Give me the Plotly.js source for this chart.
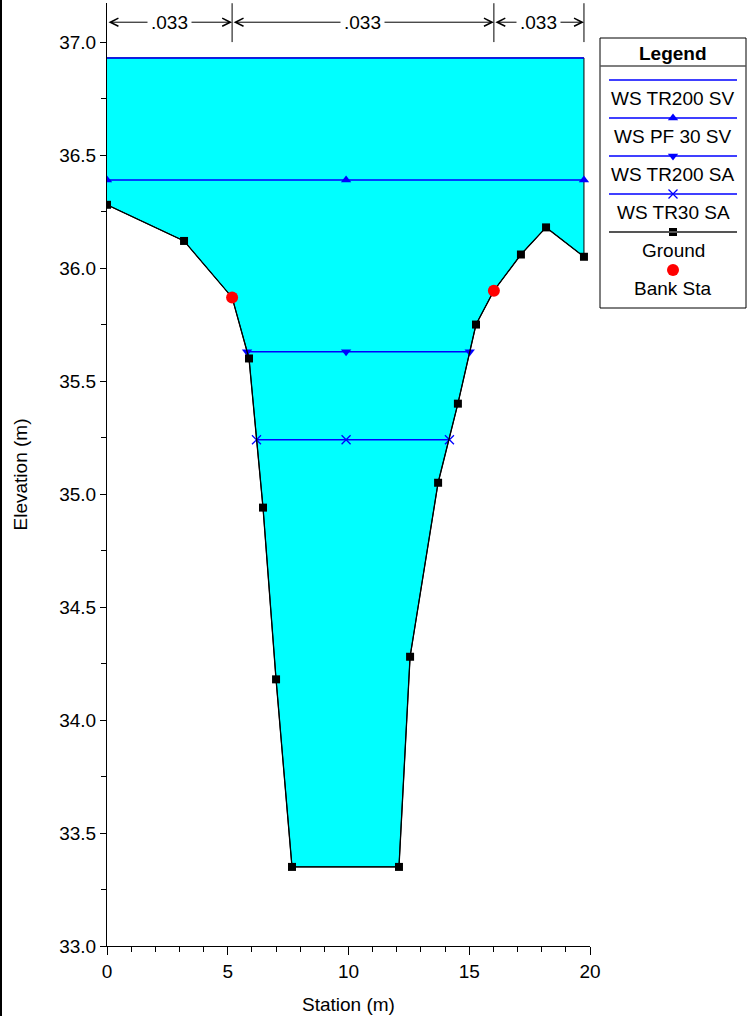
<!DOCTYPE html>
<html>
<head>
<meta charset="utf-8">
<script src="https://cdn.plot.ly/plotly-3.0.1.min.js"></script>
<style>html,body{margin:0;padding:0;background:#fff;}#chart{width:748px;height:1016px;}</style>
</head>
<body>
<div id="chart"></div>
<script>
// ---- data ----
const groundSta  = [0, 3.19, 5.18, 5.88, 6.46, 7.00, 7.66, 12.09, 12.55, 13.71, 14.53, 15.28, 16.02, 17.14, 18.18, 19.75];
const groundElev = [36.28, 36.12, 35.87, 35.60, 34.94, 34.18, 33.35, 33.35, 34.28, 35.05, 35.40, 35.75, 35.90, 36.06, 36.18, 36.05];
const bankSta  = [5.18, 16.02];
const bankElev = [35.87, 35.90];
const wsNames  = ['WS TR200 SV', 'WS PF 30 SV', 'WS TR200 SA', 'WS TR30 SA'];
const wsElev   = [36.93, 36.39, 35.63, 35.24];
const wsLeft   = [0, 0, 5.80, 6.19];
const wsRight  = [19.75, 19.75, 15.02, 14.18];
const wsMid    = 9.9;
const wsSymbols = [null, 'triangle-up', 'triangle-down', 'x-thin-open'];
const nStations = [0, 5.18, 16.02, 19.75];
const nValues   = ['.033', '.033', '.033'];
const legendNames = ['WS TR200 SV', 'WS PF 30 SV', 'WS TR200 SA', 'WS TR30 SA', 'Ground', 'Bank Sta'];

const FONT = 'Liberation Sans, Arial, sans-serif';
const FS = 19;
const BLUE = '#0000ff';
const traces = [];

// water fill (top water surface down to ground)
const topWS = wsElev[0];
traces.push({
  x: groundSta.concat([groundSta[groundSta.length - 1], groundSta[0]]),
  y: groundElev.concat([topWS, topWS]),
  mode: 'lines', fill: 'toself', fillcolor: '#00ffff',
  line: {color: '#000000', width: 1}, hoverinfo: 'skip', showlegend: false, xaxis: 'x', yaxis: 'y'
});

// water surfaces
wsNames.forEach((nm, i) => {
  const sym = wsSymbols[i];
  const t = {
    x: sym ? [wsLeft[i], wsMid, wsRight[i]] : [wsLeft[i], wsRight[i]],
    y: sym ? [wsElev[i], wsElev[i], wsElev[i]] : [wsElev[i], wsElev[i]],
    mode: sym ? 'lines+markers' : 'lines',
    line: {color: BLUE, width: 1.5},
    name: nm, showlegend: false, xaxis: 'x', yaxis: 'y'
  };
  if (sym) t.marker = {symbol: sym, size: 9, color: BLUE, line: {color: BLUE, width: sym === 'x-thin-open' ? 1.3 : 0}};
  traces.push(t);
});

// ground
traces.push({
  x: groundSta, y: groundElev, mode: 'lines+markers', name: 'Ground',
  line: {color: '#000000', width: 1.3},
  marker: {symbol: 'square', size: 8, color: '#000000'},
  showlegend: false, xaxis: 'x', yaxis: 'y'
});
// bank stations
traces.push({
  x: bankSta, y: bankElev, mode: 'markers', name: 'Bank Sta',
  marker: {symbol: 'circle', size: 12, color: '#ff0000'},
  showlegend: false, xaxis: 'x', yaxis: 'y'
});

// ---- custom legend (pixel-like coordinates on x2/y2) ----
const LX0 = 600, LX1 = 746, LCX = 673;
const lineY = i => 80 + 38 * i;
const textY = i => 98 + 38 * i;
const legendSyms = [null, 'triangle-up', 'triangle-down', 'x-thin-open', 'square'];
const shapes = [];
const annotations = [];
for (let i = 0; i < 5; i++) {
  const isGround = i === 4;
  shapes.push({type: 'line', xref: 'x2', yref: 'y2', x0: 609, x1: 737, y0: lineY(i), y1: lineY(i),
    line: {color: isGround ? '#555555' : BLUE, width: isGround ? 2 : 1.3}});
  if (legendSyms[i]) {
    traces.push({x: [LCX], y: [lineY(i)], mode: 'markers', xaxis: 'x2', yaxis: 'y2', showlegend: false, hoverinfo: 'skip',
      marker: {symbol: legendSyms[i], size: isGround ? 8 : 9, color: isGround ? '#000' : BLUE,
               line: {color: isGround ? '#000' : BLUE, width: legendSyms[i] === 'x-thin-open' ? 1.3 : 0}}});
  }
  annotations.push({xref: 'x2', yref: 'y2', x: LCX, y: textY(i), text: legendNames[i], showarrow: false,
    font: {family: FONT, size: FS, color: '#000'}, xanchor: 'center', yanchor: 'middle'});
}
traces.push({x: [LCX], y: [270], mode: 'markers', xaxis: 'x2', yaxis: 'y2', showlegend: false, hoverinfo: 'skip',
  marker: {symbol: 'circle', size: 12, color: '#ff0000'}});
annotations.push({xref: 'x2', yref: 'y2', x: LCX, y: 288, text: legendNames[5], showarrow: false,
  font: {family: FONT, size: FS, color: '#000'}, xanchor: 'center', yanchor: 'middle'});
annotations.push({xref: 'x2', yref: 'y2', x: LCX, y: 53, text: '<b>Legend</b>', showarrow: false,
  font: {family: FONT, size: FS, color: '#000'}, xanchor: 'center', yanchor: 'middle'});
shapes.push({type: 'rect', xref: 'x2', yref: 'y2', x0: LX0, x1: LX1, y0: 38, y1: 308, line: {color: '#000', width: 1}});
shapes.push({type: 'line', xref: 'x2', yref: 'y2', x0: LX0, x1: LX1, y0: 66, y1: 66, line: {color: '#555', width: 1.5}});

// ---- Manning's n markers at top ----
const nTop = 37.172, nBot = 37.0, nArrowY = 37.088;
nStations.forEach(s => {
  if (s === 0) return;
  shapes.push({type: 'line', xref: 'x', yref: 'y', x0: s, x1: s, y0: nBot, y1: nTop, line: {color: '#000', width: 1}});
});
for (let i = 0; i < nValues.length; i++) {
  const a = nStations[i], b = nStations[i + 1];
  annotations.push({xref: 'x', yref: 'y', axref: 'x', ayref: 'y', x: b, y: nArrowY, ax: a, ay: nArrowY,
    text: '', showarrow: true, arrowhead: 5, startarrowhead: 5, arrowside: 'end+start', arrowsize: 1.6,
    arrowwidth: 1, arrowcolor: '#000', standoff: 0, startstandoff: 0});
}
for (let i = 0; i < nValues.length; i++) {
  const a = nStations[i], b = nStations[i + 1];
  annotations.push({xref: 'x', yref: 'y', x: (a + b) / 2, y: nArrowY, text: nValues[i], showarrow: false,
    bgcolor: '#ffffff', borderpad: 3, font: {family: FONT, size: FS, color: '#000'}, xanchor: 'center', yanchor: 'middle'});
}

// left frame line of the picture
shapes.push({type: 'line', xref: 'paper', yref: 'paper', x0: -106 / 641, x1: -106 / 641, y0: -0.1, y1: 1.01, line: {color: '#000', width: 2}});

const layout = {
  width: 748, height: 1016,
  margin: {l: 107, r: 0, t: 3, b: 70, pad: 0},
  paper_bgcolor: '#fff', plot_bgcolor: '#fff',
  font: {family: FONT, size: FS, color: '#000'},
  showlegend: false,
  xaxis: {
    domain: [0, 483 / 641], range: [0, 20], showgrid: false, zeroline: false,
    showline: true, linecolor: '#000', linewidth: 1,
    ticks: 'outside', ticklen: 8, tickcolor: '#000', dtick: 5, tick0: 0,
    minor: {ticks: 'outside', ticklen: 5, dtick: 1, tickcolor: '#000', showgrid: false},
    tickfont: {family: FONT, size: FS},
    title: {text: 'Station (m)', font: {family: FONT, size: FS}, standoff: 16}
  },
  yaxis: {
    domain: [0, 1], range: [33, 37.173], showgrid: false, zeroline: false,
    showline: true, linecolor: '#000', linewidth: 1,
    ticks: 'outside', ticklen: 6, tickcolor: '#000', dtick: 0.5, tick0: 33, tickformat: '.1f',
    minor: {ticks: 'outside', ticklen: 5, dtick: 0.25, tickcolor: '#000', showgrid: false},
    tickfont: {family: FONT, size: FS},
    title: {text: 'Elevation (m)', font: {family: FONT, size: FS}, standoff: 26}
  },
  xaxis2: {domain: [(598 - 107) / 641, 1], range: [598, 748], visible: false, fixedrange: true, anchor: 'y2'},
  yaxis2: {domain: [(946 - 312) / 943, (946 - 34) / 943], range: [312, 34], visible: false, fixedrange: true, anchor: 'x2'},
  shapes: shapes,
  annotations: annotations
};

Plotly.newPlot('chart', traces, layout, {displayModeBar: false, staticPlot: true});
</script>
</body>
</html>
